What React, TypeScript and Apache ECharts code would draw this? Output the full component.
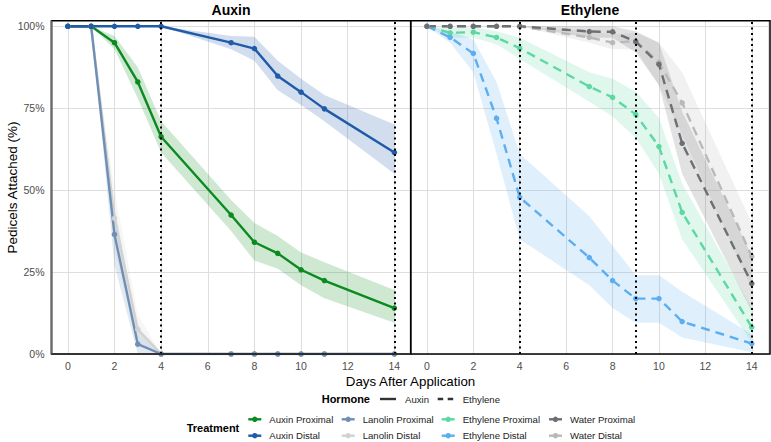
import React, { useEffect, useRef } from "react";
import * as echarts from "echarts";

// Observation days (shared by every treatment)
const days = [0, 1, 2, 3, 4, 7, 8, 9, 10, 11, 14];

// Auxin experiment: mean % pedicels attached, with ribbon bounds
const auxinProximal = [100, 100, 95, 83, 66.3, 42.4, 34.1, 30.7, 25.7, 22.4, 14];
const auxinProximalLo = [100, 100, 93, 78, 61.5, 37.5, 28.5, 26, 21, 17, 9.5];
const auxinProximalHi = [100, 100, 97, 87.5, 71, 47, 40, 36, 31, 28, 19.5];

const auxinDistal = [100, 100, 100, 100, 100, 95, 93.2, 84.8, 79.9, 74.8, 61.5];
const auxinDistalLo = [100, 100, 100, 100, 100, 93, 89.5, 80.5, 76, 71, 55];
const auxinDistalHi = [100, 100, 100, 100, 100, 97, 96.8, 89.5, 84, 79, 70];

const lanolinProximal = [100, 100, 36.5, 3, 0, 0, 0, 0, 0, 0, 0];
const lanolinProximalLo = [100, 100, 27, 0, 0, 0, 0, 0, 0, 0, 0];
const lanolinProximalHi = [100, 100, 45, 7, 0, 0, 0, 0, 0, 0, 0];

const lanolinDistal = [100, 100, 41.4, 7.5, 0, 0, 0, 0, 0, 0, 0];
const lanolinDistalLo = [100, 100, 32, 3, 0, 0, 0, 0, 0, 0, 0];
const lanolinDistalHi = [100, 100, 50, 12, 0, 0, 0, 0, 0, 0, 0];

// Ethylene experiment
const ethyleneProximal = [100, 98, 98.2, 96.6, 93.3, 81.6, 78.3, 73.1, 63.3, 43.2, 8.2];
const ethyleneProximalLo = [100, 96.5, 96.5, 94.5, 90, 77, 72.5, 66, 55, 35, 3.5];
const ethyleneProximalHi = [100, 99.5, 99.7, 98.5, 96.5, 86, 84, 80, 72, 52, 14];

const ethyleneDistal = [100, 96.6, 91.7, 71.9, 47.8, 29.4, 22.4, 16.9, 16.9, 9.9, 3.2];
const ethyleneDistalLo = [100, 95, 86, 61, 35, 21, 14, 9.5, 9.5, 5, 0.5];
const ethyleneDistalHi = [100, 98.5, 96, 83, 61, 42, 33, 24, 24, 19, 6];

const waterProximal = [100, 100, 100, 100, 100, 98.4, 98.3, 95.3, 88.4, 64.3, 21.5];
const waterProximalLo = [100, 100, 100, 100, 100, 96.5, 96.5, 92, 82, 55, 13];
const waterProximalHi = [100, 100, 100, 100, 100, 100, 100, 98.5, 95, 74, 30];

const waterDistal = [100, 100, 100, 100, 100, 96.6, 95, 95.5, 89, 76.6, 29.8];
const waterDistalLo = [100, 100, 100, 100, 100, 95, 93, 93, 82, 67, 20];
const waterDistalHi = [100, 100, 100, 100, 100, 98.5, 97.5, 98, 95, 86, 40];

// Days marked with dotted reference lines in each panel
const auxinMarkDays = [4, 14];
const ethyleneMarkDays = [4, 9, 14];

const panelTitles = ["Auxin", "Ethylene"];
const hormoneLabels = ["Auxin", "Ethylene"];
const yTicks = [0, 25, 50, 75, 100];

type Treatment = {
  name: string;
  panel: number;
  color: string;
  mean: number[];
  lo: number[];
  hi: number[];
};

const treatments: Treatment[] = [
  { name: "Lanolin Distal", panel: 0, color: "#d2d2d2", mean: lanolinDistal, lo: lanolinDistalLo, hi: lanolinDistalHi },
  { name: "Lanolin Proximal", panel: 0, color: "#6f8fb5", mean: lanolinProximal, lo: lanolinProximalLo, hi: lanolinProximalHi },
  { name: "Auxin Proximal", panel: 0, color: "#0a8a1f", mean: auxinProximal, lo: auxinProximalLo, hi: auxinProximalHi },
  { name: "Auxin Distal", panel: 0, color: "#1f5ba8", mean: auxinDistal, lo: auxinDistalLo, hi: auxinDistalHi },
  { name: "Ethylene Proximal", panel: 1, color: "#5dd8a3", mean: ethyleneProximal, lo: ethyleneProximalLo, hi: ethyleneProximalHi },
  { name: "Ethylene Distal", panel: 1, color: "#5daef0", mean: ethyleneDistal, lo: ethyleneDistalLo, hi: ethyleneDistalHi },
  { name: "Water Distal", panel: 1, color: "#b9b9b9", mean: waterDistal, lo: waterDistalLo, hi: waterDistalHi },
  { name: "Water Proximal", panel: 1, color: "#6c7075", mean: waterProximal, lo: waterProximalLo, hi: waterProximalHi },
];

// Legend layout: columns of [top, bottom] treatment names
const legendColumns = [
  ["Auxin Proximal", "Auxin Distal"],
  ["Lanolin Proximal", "Lanolin Distal"],
  ["Ethylene Proximal", "Ethylene Distal"],
  ["Water Proximal", "Water Distal"],
];

const FONT = '"Liberation Sans", Arial, Helvetica, sans-serif';
const DASH = [9, 6];

const pairs = (vals: number[]) => days.map((d, i) => [d, vals[i]]);

function textEl(text: string, x: number, y: number, size: number, opts: any = {}) {
  const align = opts.align || "left";
  return {
    type: "text",
    x,
    y,
    rotation: opts.rotation || 0,
    silent: true,
    style: {
      text,
      fill: opts.color || "#000",
      font: `${opts.bold ? "bold " : ""}${size}px ${FONT}`,
      align,
      textAlign: align,
      verticalAlign: "middle",
      textVerticalAlign: "middle",
    },
  };
}

export default function App() {
  const ref = useRef<HTMLDivElement>(null);

  useEffect(() => {
    if (!ref.current) return;
    const chart = echarts.init(ref.current, undefined, { renderer: "svg" });

    const gridTop = 20.7;
    const gridHeight = 333.3;
    const panels = [
      { left: 51.5, top: gridTop, width: 359.2, height: gridHeight },
      { left: 410.7, top: gridTop, width: 359.3, height: gridHeight },
    ];
    const grids = panels.map((g) => ({ ...g, show: true, borderWidth: 0, backgroundColor: "#fff" }));

    const xAxes = [0, 1].map((i) => ({
      type: "value",
      gridIndex: i,
      min: -0.7,
      max: 14.7,
      splitNumber: 8,
      minInterval: 2,
      maxInterval: 2,
      axisLine: { show: false },
      axisTick: { show: false },
      axisLabel: {
        color: "#4d4d4d",
        fontSize: 10.5,
        fontFamily: FONT,
        margin: 6,
        formatter: (v: number) => (Math.abs(v - Math.round(v)) < 1e-6 && Math.round(v) % 2 === 0 ? String(Math.round(v)) : ""),
      },
      splitLine: { show: true, lineStyle: { color: "#dedede", width: 1.1 } },
    }));

    const yAxes = [0, 1].map((i) => ({
      type: "value",
      gridIndex: i,
      min: 0,
      max: 101.7,
      interval: 25,
      axisLine: { show: false },
      axisTick: { show: false },
      axisLabel: {
        show: i === 0,
        color: "#4d4d4d",
        fontSize: 10.5,
        fontFamily: FONT,
        margin: 7,
        formatter: (v: number) => (yTicks.includes(v) ? `${v}%` : ""),
      },
      splitLine: { show: true, lineStyle: { color: "#dedede", width: 1.1 } },
    }));

    const series: any[] = [];

    // Confidence ribbons drawn as one polygon per treatment
    treatments.forEach((t) => {
      series.push({
        type: "custom",
        name: `${t.name} band`,
        xAxisIndex: t.panel,
        yAxisIndex: t.panel,
        data: days.map((d, i) => [d, t.lo[i], t.hi[i]]),
        encode: { x: 0, y: [1, 2] },
        silent: true,
        z: 1,
        renderItem: (params: any, api: any) => {
          if (params.dataIndex !== 0) return null;
          const upper = days.map((d, i) => api.coord([d, t.hi[i]]));
          const lower = days.map((d, i) => api.coord([d, t.lo[i]])).reverse();
          return {
            type: "polygon",
            shape: { points: upper.concat(lower) },
            style: { fill: t.color, opacity: 0.2 },
          };
        },
      });
    });

    // Dotted reference lines
    [auxinMarkDays, ethyleneMarkDays].forEach((marks, p) => {
      series.push({
        type: "line",
        name: `marks-${p}`,
        xAxisIndex: p,
        yAxisIndex: p,
        data: [],
        silent: true,
        z: 2,
        markLine: {
          silent: true,
          symbol: "none",
          label: { show: false },
          lineStyle: { color: "#000", width: 2, type: [2, 3.5] },
          data: marks.map((m) => ({ xAxis: m })),
        },
      });
    });

    // Mean lines with points
    treatments.forEach((t) => {
      series.push({
        type: "line",
        name: t.name,
        xAxisIndex: t.panel,
        yAxisIndex: t.panel,
        data: pairs(t.mean),
        symbol: "circle",
        symbolSize: 5.5,
        showAllSymbol: true,
        itemStyle: { color: t.color },
        lineStyle: { color: t.color, width: 2.4, type: t.panel === 1 ? DASH : "solid" },
        z: 3,
      });
    });

    // Panel frames, strip titles, axis titles and legends
    const graphic: any[] = [];
    panels.forEach((g) => {
      graphic.push({
        type: "rect",
        silent: true,
        z: 100,
        shape: { x: g.left, y: g.top, width: g.width, height: g.height },
        style: { fill: "none", stroke: "#000", lineWidth: 1.5 },
      });
    });
    graphic.push({
      type: "line",
      silent: true,
      z: 101,
      shape: { x1: panels[0].left, y1: gridTop, x2: panels[0].left, y2: gridTop + gridHeight },
      style: { stroke: "#6a6a6a", lineWidth: 2 },
    });
    graphic.push({
      type: "line",
      silent: true,
      z: 101,
      shape: { x1: panels[0].left, y1: gridTop + gridHeight, x2: panels[0].left + panels[0].width, y2: gridTop + gridHeight },
      style: { stroke: "#333", lineWidth: 1.6 },
    });

    graphic.push(
      textEl(panelTitles[0], 231, 9.5, 14, { bold: true, align: "center" }),
      textEl(panelTitles[1], 590, 9.5, 14, { bold: true, align: "center" }),
      textEl("Days After Application", 410.5, 381, 13.3, { align: "center" }),
      textEl("Pedicels Attached (%)", 12, 187.5, 13.5, { align: "center", rotation: Math.PI / 2 }),
      textEl("Hormone", 321.7, 399, 11, { bold: true }),
      {
        type: "line",
        silent: true,
        shape: { x1: 380, y1: 399, x2: 396, y2: 399 },
        style: { stroke: "#333", lineWidth: 2.4 },
      },
      textEl(hormoneLabels[0], 405, 399, 9.6, { color: "#222" }),
      {
        type: "line",
        silent: true,
        shape: { x1: 437.7, y1: 399, x2: 453.5, y2: 399 },
        style: { stroke: "#333", lineWidth: 2.4, lineDash: [5.5, 4.5] },
      },
      textEl(hormoneLabels[1], 462.7, 399, 9.6, { color: "#222" }),
      textEl("Treatment", 186.7, 427.7, 11, { bold: true })
    );

    const colTextX = [269.3, 362.7, 462.7, 570];
    const rowY = [419.3, 435.7];
    legendColumns.forEach((col, ci) => {
      col.forEach((name, ri) => {
        const t = treatments.find((tr) => tr.name === name)!;
        const tx = colTextX[ci];
        const y = rowY[ri];
        graphic.push({
          type: "line",
          silent: true,
          shape: { x1: tx - 21, y1: y, x2: tx - 8, y2: y },
          style: { stroke: t.color, lineWidth: 2.4 },
        });
        graphic.push({
          type: "circle",
          silent: true,
          shape: { cx: tx - 14.5, cy: y, r: 2.7 },
          style: { fill: t.color },
        });
        graphic.push(textEl(name, tx, y, 9.6, { color: "#222" }));
      });
    });

    chart.setOption({
      animation: false,
      backgroundColor: "#fff",
      grid: grids,
      xAxis: xAxes,
      yAxis: yAxes,
      series,
      graphic,
    });

    return () => chart.dispose();
  }, []);

  return (
    <div
      ref={ref}
      style={{ position: "fixed", left: 0, top: 0, width: 771, height: 442, background: "#fff" }}
    />
  );
}
